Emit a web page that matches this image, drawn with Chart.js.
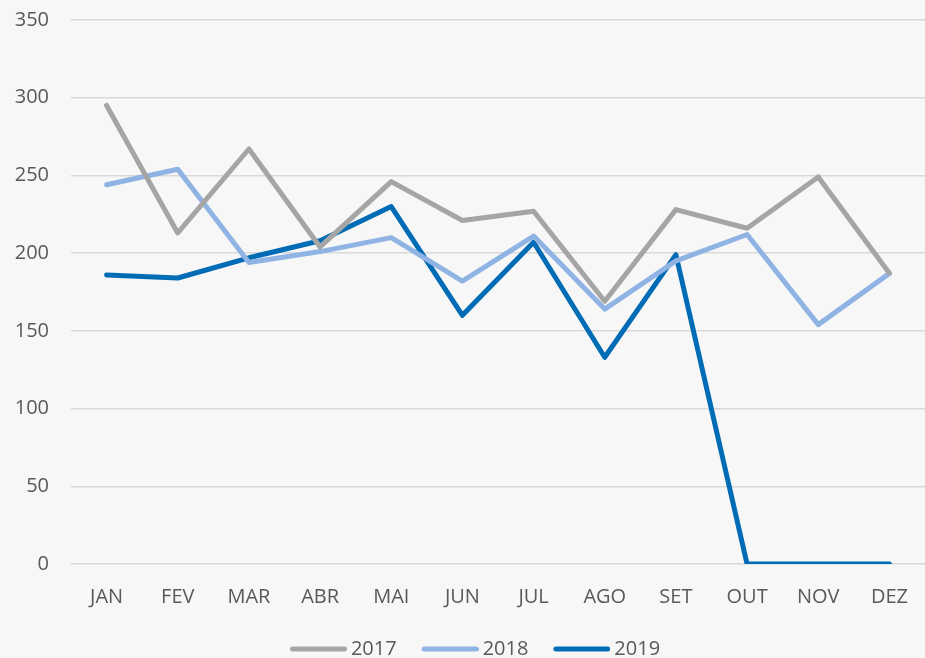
<!DOCTYPE html>
<html>
<head>
<meta charset="utf-8">
<script src="https://cdn.jsdelivr.net/npm/chart.js@4"></script>
<style>
  html, body { margin: 0; padding: 0; background: #f7f7f7; }
  #wrap { width: 925px; height: 658px; }
</style>
</head>
<body>
<div id="wrap"><canvas id="myChart"></canvas></div>
<script>
const meses = ['JAN', 'FEV', 'MAR', 'ABR', 'MAI', 'JUN', 'JUL', 'AGO', 'SET', 'OUT', 'NOV', 'DEZ'];
const dados2017 = [295, 213, 267, 204, 246, 221, 227, 169, 228, 216, 249, 187];
const dados2018 = [244, 254, 194, 201, 210, 182, 211, 164, 195, 212, 154, 187];
const dados2019 = [186, 184, 197, 208, 230, 160, 207, 133, 199, 0, 0, 0];

const ctx = document.getElementById('myChart');
const fonte = { family: 'Open Sans', size: 20, lineHeight: 1 };

// marcador da legenda: linha grossa com ponta redonda
function marcador(cor) {
  const c = document.createElement('canvas');
  c.width = 88;
  c.height = 8;
  const g = c.getContext('2d');
  g.strokeStyle = cor;
  g.lineWidth = 5;
  g.lineCap = 'round';
  g.beginPath();
  g.moveTo(33.5, 4);
  g.lineTo(85.5, 4);
  g.stroke();
  return c;
}

function serie(label, data, cor) {
  return {
    label: label,
    data: data,
    borderColor: cor,
    backgroundColor: cor,
    borderWidth: 5,
    borderCapStyle: 'round',
    borderJoinStyle: 'round',
    pointRadius: 0,
    pointStyle: marcador(cor),
    tension: 0,
  };
}

const myChart = new Chart(ctx, {
  type: 'line',
  data: {
    labels: meses,
    datasets: [
      serie('2017', dados2017, '#a5a5a5'),
      serie('2018', dados2018, '#8fb4e3'),
      serie('2019', dados2019, '#006cb5'),
    ],
  },
  options: {
    responsive: true,
    maintainAspectRatio: false,
    animation: false,
    layout: { padding: { top: 20, right: 0, left: 0, bottom: -11 } },
    plugins: {
      tooltip: { enabled: false },
      legend: {
        position: 'bottom',
        labels: {
          usePointStyle: true,
          pointStyleWidth: 76,
          color: '#595959',
          font: fonte,
          padding: 0,
        },
      },
    },
    scales: {
      x: {
        offset: true,
        grid: { display: false, drawTicks: false },
        border: { display: false },
        ticks: { color: '#595959', font: fonte, padding: 23, maxRotation: 0 },
        afterFit: function (axis) {
          axis.height = 75;
          axis.paddingRight = 0;
          axis.paddingLeft = 0;
        },
      },
      y: {
        min: 0,
        max: 350,
        grid: { color: '#d9d9d9', lineWidth: 1.5, drawTicks: false },
        border: { display: false },
        ticks: { stepSize: 50, color: '#595959', font: fonte, padding: 22 },
        afterFit: function (axis) {
          axis.width = 71;
          axis.paddingTop = 0;
          axis.paddingBottom = 0;
        },
      },
    },
  },
});
</script>
</body>
</html>
